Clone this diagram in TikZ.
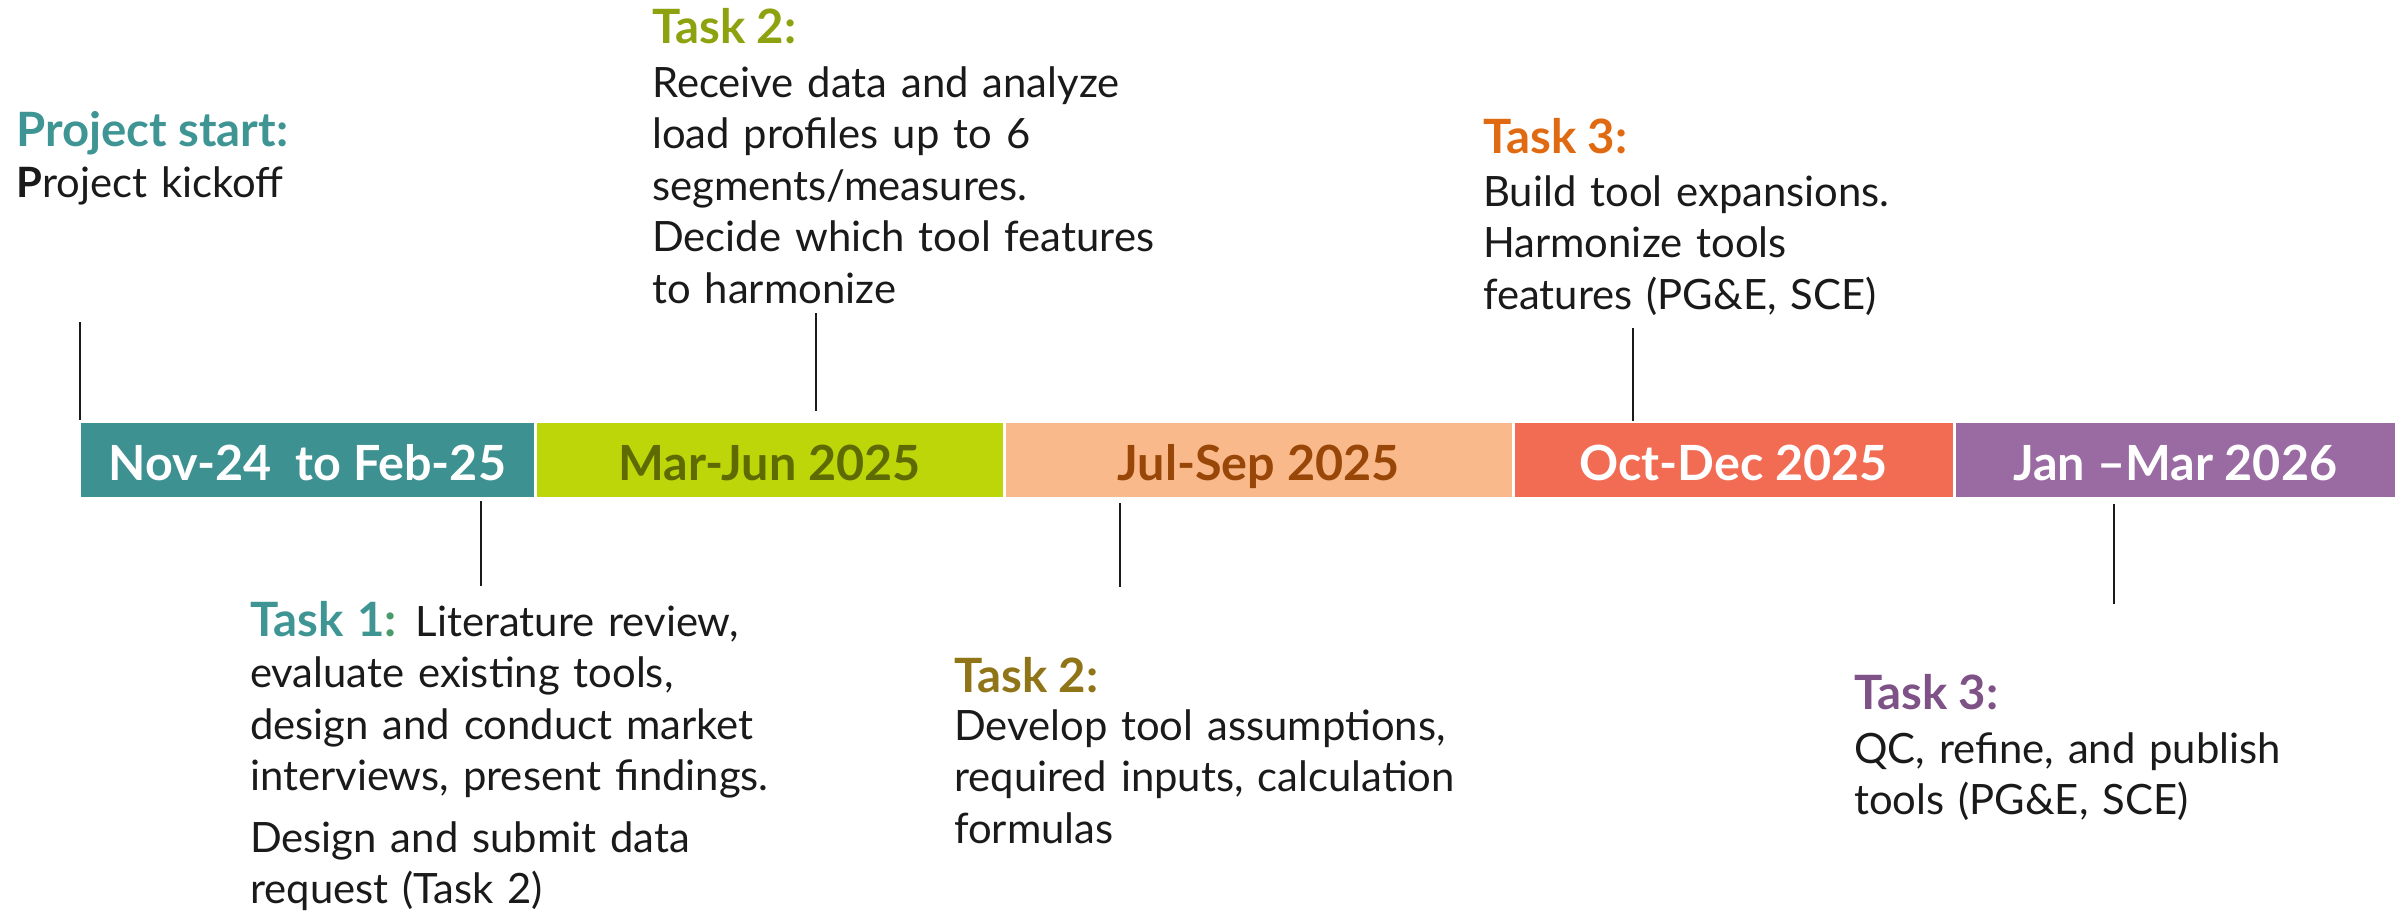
\documentclass[tikz,border=0pt]{standalone}
\usepackage{fontspec}
\setmainfont{Lato}

% palette
\definecolor{ink}{HTML}{1A1A1A}
\definecolor{tealbar}{HTML}{3D9190}
\definecolor{tealhead}{HTML}{3F9594}
\definecolor{tealcolon}{HTML}{4A9A6C}
\definecolor{limebar}{HTML}{BDD60A}
\definecolor{limetext}{HTML}{5E6A02}
\definecolor{limehead}{HTML}{8EA20F}
\definecolor{peachbar}{HTML}{FAB98A}
\definecolor{peachtext}{HTML}{984708}
\definecolor{goldhead}{HTML}{8F7418}
\definecolor{coralbar}{HTML}{F26B53}
\definecolor{orangehead}{HTML}{E06A12}
\definecolor{purplebar}{HTML}{9A6BA2}
\definecolor{purplehead}{HTML}{7E5287}

\tikzset{
  seg/.style={rectangle, inner sep=0pt, minimum height=74pt,
    text height=40pt, text depth=0pt,
    font=\fontsize{48.5}{50}\selectfont\bfseries},
  head/.style={anchor=base west, inner sep=0pt,
    font=\fontsize{47.3}{51}\selectfont\bfseries},
  body/.style={anchor=base west, inner sep=0pt, align=left,
    text width=900pt, text=ink,
    font=\fontsize{41.8}{51.5}\selectfont},
  tick/.style={draw=ink, line width=2pt},
}
\newcommand{\inlinehead}{\fontsize{47.3}{51}\selectfont\bfseries}

\begin{document}
\begin{tikzpicture}[x=1pt, y=-1pt]
  \useasboundingbox (0,0) rectangle (2404,914);

  % timeline bar
  \node[seg, fill=tealbar,   text=white,     minimum width=452.5pt] (s1) at (307.25,460) {Nov-24\ \ to Feb-25};
  \node[seg, fill=limebar,   text=limetext,  minimum width=466pt]   (s2) at (769.5,460)  {Mar-Jun 2025};
  \node[seg, fill=peachbar,  text=peachtext, minimum width=506pt]   (s3) at (1258.5,460) {Jul-Sep 2025};
  \node[seg, fill=coralbar,  text=white,     minimum width=438pt]   (s4) at (1733.5,460) {Oct-Dec 2025};
  \node[seg, fill=purplebar, text=white,     minimum width=439.5pt] (s5) at (2175.25,460) {Jan –Mar 2026};

  % tick ends
  \coordinate (p0a) at (80,322);   \coordinate (p0b) at (80,420);
  \coordinate (p2a) at (816,313);  \coordinate (p2b) at (816,411);
  \coordinate (p3a) at (1633,328); \coordinate (p3b) at (1633,421);
  \coordinate (q1a) at (481,501);  \coordinate (q1b) at (481,586);
  \coordinate (q2a) at (1120,503); \coordinate (q2b) at (1120,587);
  \coordinate (q3a) at (2114,504); \coordinate (q3b) at (2114,604);

  \draw[tick] (p0a) -- (p0b);
  \draw[tick] (p2a) -- (p2b);
  \draw[tick] (p3a) -- (p3b);
  \draw[tick] (q1a) -- (q1b);
  \draw[tick] (q2a) -- (q2b);
  \draw[tick] (q3a) -- (q3b);

  % labels above the bar
  \node[head, text=tealhead] (h0) at (16,146) {Project start:};
  \node[body] (b0) at (16,197) {\textbf{P}roject kickoff};

  \node[head, text=limehead] (h2) at (652,43) {Task 2:};
  \node[body] (b2) at (652,97) {Receive data and analyze\\
    load profiles up to 6\\
    segments/measures.\\
    Decide which tool features\\
    to harmonize};

  \node[head, text=orangehead] (h3) at (1483,153) {Task 3:};
  \node[body] (b3) at (1483,206) {Build tool expansions.\\
    Harmonize tools\\
    features (PG\&E, SCE)};

  % labels below the bar
  \node[body] (b1) at (250,636) {{\inlinehead\color{tealhead}Task 1}{\inlinehead\color{tealcolon}:}\hspace{-2pt} Literature review,\\
    evaluate existing tools,\\
    design and conduct market\\
    interviews, present findings.\\[10pt]
    Design and submit data\\
    request (Task 2)};

  \node[head, text=goldhead] (h4) at (954,692) {Task 2:};
  \node[body] (b4) at (954,740) {Develop tool assumptions,\\
    required inputs, calculation\\
    formulas};

  \node[head, text=purplehead] (h5) at (1854,709) {Task 3:};
  \node[body] (b5) at (1854,763) {QC, refine, and publish\\
    tools (PG\&E, SCE)};
\end{tikzpicture}
\end{document}
